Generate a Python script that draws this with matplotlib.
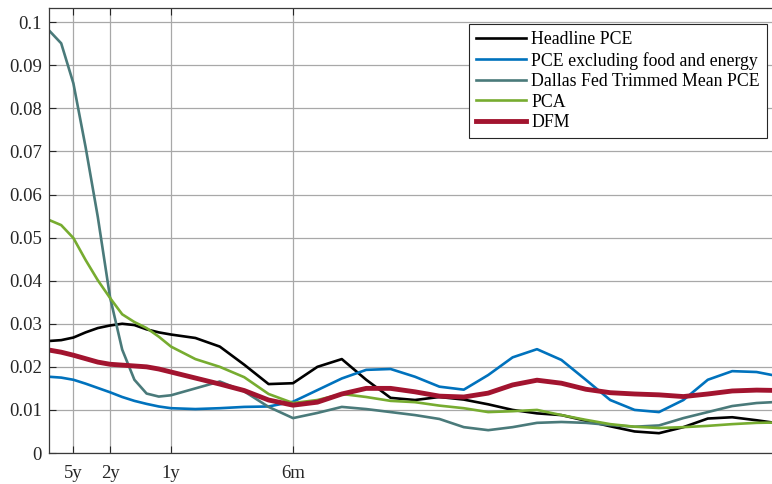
import numpy as np
import matplotlib
matplotlib.use("Agg")
import matplotlib.pyplot as plt

plt.rcParams['font.family'] = ['Liberation Serif', 'DejaVu Serif']

# frequency grid, in units of pi/60 (fine steps at low frequencies)
grid_idx = [0, 1, 2, 3, 4, 5, 6, 7, 8, 9, 10,
            12, 14, 16, 18, 20, 22, 24, 26, 28, 30,
            32, 34, 36, 38, 40, 42, 44, 46, 48, 50,
            52, 54, 56, 58, 60]

headline = [0.0260, 0.0262, 0.0268, 0.0280, 0.0290, 0.0296, 0.0300, 0.0297, 0.0287, 0.0280, 0.0275,
            0.0267, 0.0247, 0.0205, 0.0160, 0.0162, 0.0200, 0.0218, 0.0170, 0.0128, 0.0123,
            0.0130, 0.0124, 0.0113, 0.0100, 0.0092, 0.0088, 0.0075, 0.0062, 0.0050, 0.0046,
            0.0060, 0.0080, 0.0083, 0.0076, 0.0068]
core = [0.0177, 0.0175, 0.0170, 0.0161, 0.0151, 0.0141, 0.0130, 0.0121, 0.0114, 0.0108, 0.0104,
        0.0102, 0.0104, 0.0107, 0.0108, 0.0119, 0.0146, 0.0173, 0.0193, 0.0195, 0.0177,
        0.0154, 0.0147, 0.0181, 0.0222, 0.0241, 0.0216, 0.0170, 0.0123, 0.0100, 0.0095,
        0.0123, 0.0170, 0.0190, 0.0188, 0.0177]
dallas = [0.0981, 0.0951, 0.0858, 0.0710, 0.0548, 0.0362, 0.0240, 0.0170, 0.0138, 0.0131, 0.0134,
          0.0150, 0.0166, 0.0143, 0.0107, 0.0081, 0.0093, 0.0107, 0.0102, 0.0095, 0.0088,
          0.0079, 0.0060, 0.0053, 0.0060, 0.0070, 0.0072, 0.0070, 0.0065, 0.0061, 0.0064,
          0.0081, 0.0095, 0.0109, 0.0116, 0.0119]
pca = [0.0541, 0.0529, 0.0499, 0.0448, 0.0401, 0.0360, 0.0322, 0.0304, 0.0290, 0.0270, 0.0247,
       0.0218, 0.0200, 0.0176, 0.0137, 0.0116, 0.0123, 0.0137, 0.0130, 0.0121, 0.0118,
       0.0110, 0.0104, 0.0095, 0.0097, 0.0100, 0.0088, 0.0077, 0.0067, 0.0061, 0.0058,
       0.0060, 0.0063, 0.0067, 0.0070, 0.0071]
dfm = [0.0239, 0.0234, 0.0227, 0.0219, 0.0211, 0.0206, 0.0204, 0.0202, 0.0200, 0.0195, 0.0188,
       0.0174, 0.0160, 0.0145, 0.0123, 0.0111, 0.0118, 0.0137, 0.0150, 0.0150, 0.0142,
       0.0132, 0.0130, 0.0139, 0.0158, 0.0169, 0.0162, 0.0148, 0.0140, 0.0137, 0.0135,
       0.0131, 0.0137, 0.0144, 0.0146, 0.0145]

labels = ["Headline PCE", "PCE excluding food and energy",
          "Dallas Fed Trimmed Mean PCE", "PCA", "DFM"]
colors = ["#000000", "#0072BD", "#4A7A7A", "#77AC30", "#A2142F"]
widths = [1.9, 1.9, 1.9, 1.9, 3.5]

# periods in months for the x ticks
period_months = [60, 24, 12, 6]
period_labels = ["5y", "2y", "1y", "6m"]
ytick_vals = [0, 0.01, 0.02, 0.03, 0.04, 0.05, 0.06, 0.07, 0.08, 0.09, 0.1]
ytick_labels = ["0", "0.01", "0.02", "0.03", "0.04", "0.05", "0.06", "0.07", "0.08", "0.09", "0.1"]

freq = np.array(grid_idx) * np.pi / 60

fig = plt.figure(figsize=(7.72, 4.84), dpi=100)
ax = fig.add_axes([49 / 772, 31 / 484, 732 / 772, 445 / 484])

for ser, lab, c, lw in zip([headline, core, dallas, pca, dfm], labels, colors, widths):
    ax.plot(freq, ser, color=c, lw=lw, label=lab, solid_joinstyle='round')

ax.set_xlim(0, np.pi)
ax.set_ylim(0, 0.1033)
ax.set_xticks([2 * np.pi / p for p in period_months])
ax.set_xticklabels(period_labels)
ax.set_yticks(ytick_vals)
ax.set_yticklabels(ytick_labels)
ax.tick_params(direction='in', length=5, width=0.8, labelsize=13.5, colors='#262626',
               top=True, right=True, pad=5)
ax.tick_params(axis='x', pad=9)
ax.grid(True, color='#a8a8a8', lw=0.9)
ax.set_axisbelow(True)
for s in ax.spines.values():
    s.set_color('#3a3a3a')
    s.set_linewidth(0.9)

leg = ax.legend(loc='upper right', bbox_to_anchor=(767 / 772, 1 - 24 / 484),
                bbox_transform=fig.transFigure, fontsize=12.8, frameon=True,
                fancybox=False, framealpha=1, edgecolor='#262626',
                handlelength=2.8, handletextpad=0.3, labelspacing=0.2,
                borderpad=0.4, borderaxespad=0)
leg.get_frame().set_linewidth(0.8)

fig.savefig("out.png", dpi=100)
